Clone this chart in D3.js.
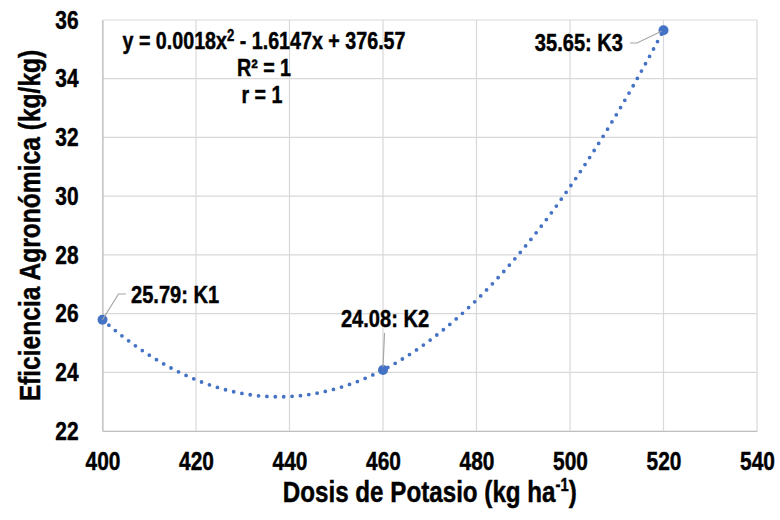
<!DOCTYPE html>
<html>
<head>
<meta charset="utf-8">
<script src="https://cdn.jsdelivr.net/npm/d3@7"></script>
<style>
  body { margin: 0; background: #fff; }
  svg { display: block; font-family: "Liberation Sans", Arial, sans-serif; }
  svg text { stroke: #000; stroke-width: 0.45px; }
</style>
</head>
<body>
<svg id="chart" width="780" height="520"></svg>
<script>
// ---- data ----
const doses = [400, 460, 520];
const efficiency = [25.79, 24.08, 35.65];
const pointLabels = ["K1", "K2", "K3"];
const xTicks = [400, 420, 440, 460, 480, 500, 520, 540];
const yTicks = [22, 24, 26, 28, 30, 32, 34, 36];
const equationLines = ["y = 0.0018x", "R² = 1", "r = 1"];

// ---- layout ----
const W = 780, H = 520;
const SX = 0.82;            // horizontal condensing of all text (narrow look)
const m = { left: 102.5, right: 23, top: 20, bottom: 89 };
const svg = d3.select("#chart");
const x = d3.scaleLinear().domain([400, 540]).range([m.left, W - m.right]);
const y = d3.scaleLinear().domain([22, 36]).range([H - m.bottom, m.top]);

// condensed text helper: a group positioned at (tx,ty), scaled horizontally
function ctext(tx, ty, anchor, size) {
  return svg.append("g").attr("transform", `translate(${tx},${ty}) scale(${SX},1)`)
    .append("text").attr("text-anchor", anchor).attr("font-size", size)
    .attr("font-weight", "bold").attr("fill", "#000");
}

// gridlines
const grid = svg.append("g");
grid.selectAll("line.v").data(xTicks).join("line")
  .attr("x1", d => x(d)).attr("x2", d => x(d))
  .attr("y1", y(22)).attr("y2", y(36))
  .attr("stroke", "#d9d9d9").attr("stroke-width", 1.2);
grid.selectAll("line.h").data(yTicks).join("line")
  .attr("x1", x(400)).attr("x2", x(540))
  .attr("y1", d => y(d)).attr("y2", d => y(d))
  .attr("stroke", "#d9d9d9").attr("stroke-width", 1.2);

// axes
const xAxis = svg.append("g").attr("transform", `translate(0,${y(22)})`)
  .call(d3.axisBottom(x).tickValues(xTicks).tickSize(0).tickPadding(21));
const yAxis = svg.append("g").attr("transform", `translate(${x(400)},0)`)
  .call(d3.axisLeft(y).tickValues(yTicks).tickSize(0).tickPadding(24));
[xAxis, yAxis].forEach(a => {
  a.select(".domain").attr("stroke", "#bfbfbf").attr("stroke-width", 1.2);
  a.selectAll("text").attr("font-size", 25.5).attr("font-weight", "bold")
    .attr("fill", "#000").attr("font-family", "Liberation Sans, Arial, sans-serif")
    .attr("transform", `scale(${SX},1)`);
});
yAxis.selectAll("text").attr("x", -24 / SX);

// trendline: quadratic fitted through the data points (least squares)
function fitQuadratic(xs, ys) {
  const n = xs.length;
  let S = [[0,0,0],[0,0,0],[0,0,0]], T = [0,0,0];
  for (let i = 0; i < n; i++) {
    const p = [1, xs[i], xs[i]*xs[i]];
    for (let r = 0; r < 3; r++) {
      T[r] += p[r]*ys[i];
      for (let c = 0; c < 3; c++) S[r][c] += p[r]*p[c];
    }
  }
  for (let k = 0; k < 3; k++) {
    for (let r = k+1; r < 3; r++) {
      const f = S[r][k]/S[k][k];
      for (let c = k; c < 3; c++) S[r][c] -= f*S[k][c];
      T[r] -= f*T[k];
    }
  }
  const sol = [0,0,0];
  for (let r = 2; r >= 0; r--) {
    let s = T[r];
    for (let c = r+1; c < 3; c++) s -= S[r][c]*sol[c];
    sol[r] = s/S[r][r];
  }
  return v => sol[0] + sol[1]*v + sol[2]*v*v;
}
const f = fitQuadratic(doses, efficiency);
const trend = d3.range(400, 520.001, 0.5).map(v => [v, f(v)]);
svg.append("path")
  .datum(trend)
  .attr("d", d3.line().x(d => x(d[0])).y(d => y(d[1])))
  .attr("fill", "none").attr("stroke", "#4472C4").attr("stroke-width", 3.8)
  .attr("stroke-linecap", "round").attr("stroke-dasharray", "0 8.4");

// points
const pts = doses.map((d, i) => ({ x: d, y: efficiency[i], k: pointLabels[i] }));
svg.selectAll("circle.pt").data(pts).join("circle")
  .attr("cx", d => x(d.x)).attr("cy", d => y(d.y)).attr("r", 5)
  .attr("fill", "#4472C4");

// data labels with leader lines
const labelSpec = [
  { anchor: "start", tx: 131, ty: 303, leader: (px, py) => [[px, py], [118.5, 294], [126, 294]] },
  { anchor: "middle", tx: 385, ty: 327, leader: (px, py) => [[px, py - 3], [384.5, 333]] },
  { anchor: "end", tx: 623, ty: 51, leader: (px, py) => [[px - 2, py + 1], [637, 43], [630, 43]] }
];
pts.forEach((p, i) => {
  const s = labelSpec[i];
  const px = x(p.x), py = y(p.y);
  svg.append("path")
    .attr("d", d3.line()(s.leader(px, py)))
    .attr("fill", "none").attr("stroke", "#a6a6a6").attr("stroke-width", 1.2);
  ctext(s.tx, s.ty, s.anchor, 24.5).text(`${p.y.toFixed(2)}: ${p.k}`);
});

// equation text
const eq = ctext(264, 49, "middle", 24);
eq.append("tspan").text(equationLines[0]);
eq.append("tspan").attr("dy", -8).attr("font-size", 16).text("2");
eq.append("tspan").attr("dy", 8).text(" - 1.6147x + 376.57");
ctext(264, 76, "middle", 24).text(equationLines[1]);
ctext(262, 103, "middle", 24).text(equationLines[2]);

// axis titles
const xt = ctext((x(400) + x(540)) / 2, 502, "middle", 29.5);
xt.append("tspan").text("Dosis de Potasio (kg ha");
xt.append("tspan").attr("dy", -11).attr("font-size", 18).text("-1");
xt.append("tspan").attr("dy", 11).text(")");

svg.append("g").attr("transform", `translate(40,${(y(22) + y(36)) / 2}) rotate(-90) scale(${SX},1)`)
  .append("text")
  .attr("text-anchor", "middle").attr("font-size", 30).attr("font-weight", "bold").attr("fill", "#000")
  .text("Eficiencia Agronómica (kg/kg)");
</script>
</body>
</html>
